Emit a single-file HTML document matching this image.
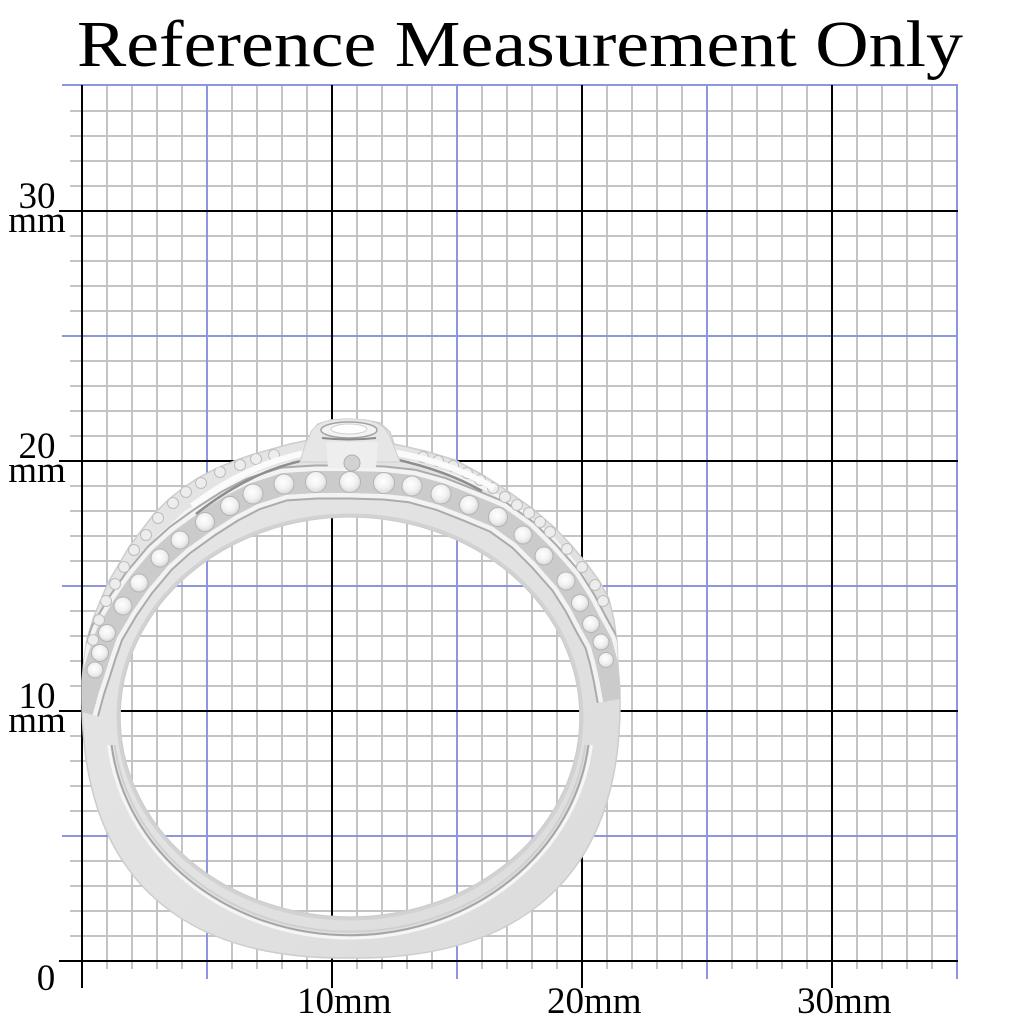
<!DOCTYPE html>
<html><head><meta charset="utf-8"><style>
html,body{margin:0;padding:0;background:#fff;}
svg{display:block;}
</style></head><body>
<svg width="1024" height="1024" viewBox="0 0 1024 1024" xmlns="http://www.w3.org/2000/svg">
<defs>
<radialGradient id="st" cx="45%" cy="40%" r="60%">
<stop offset="0" stop-color="#ffffff"/><stop offset="0.6" stop-color="#f1f1f1"/><stop offset="1" stop-color="#d8d8d8"/>
</radialGradient>
<linearGradient id="body" x1="0" y1="0" x2="1" y2="1">
<stop offset="0" stop-color="#e5e5e5"/><stop offset="0.5" stop-color="#e2e2e2"/><stop offset="1" stop-color="#dbdbdb"/>
</linearGradient>
<clipPath id="rc">
<path clip-rule="evenodd" d="M82 700 L82 681 L84 660 L87 639 L93 619 L101 599 L109 581 L119 564 L129 547 L141 531 L154 514 L169 499 L183 488 L198 478 L217 468 L237 460 L254 454 L272 449 L290 444 L309 440 L311 432 L318 424 L331 420 L348 419 L365 420 L380 423 L390 432 L394 444 L425 451 L455 460 L483 475 L509 492 L533 509 L555 528 L572 546 L587 564 L600 582 L609 599 L614 620 L617 642 L618 665 L620 690 L620 705 C620 872 525 960 350 958 C175 960 82 872 82 700 Z M120 717 A230 200 0 1 0 580 717 A230 200 0 1 0 120 717 Z"/>
</clipPath>
</defs>
<rect width="1024" height="1024" fill="#fff"/>

<!-- minor grid -->
<g stroke="#c4c4c4" stroke-width="2">
<path d="M107 85V969M132 85V969M157 85V969M182 85V969M232 85V969M257 85V969M282 85V969M307 85V969M357 85V969M382 85V969M407 85V969M432 85V969M482 85V969M507 85V969M532 85V969M557 85V969M607 85V969M632 85V969M657 85V969M682 85V969M732 85V969M757 85V969M782 85V969M807 85V969M857 85V969M882 85V969M907 85V969M932 85V969"/>
<path d="M70 936H958M70 911H958M70 886H958M70 861H958M70 811H958M70 786H958M70 761H958M70 736H958M70 686H958M70 661H958M70 636H958M70 611H958M70 561H958M70 536H958M70 511H958M70 486H958M70 436H958M70 411H958M70 386H958M70 361H958M70 311H958M70 286H958M70 261H958M70 236H958M70 186H958M70 161H958M70 136H958M70 111H958"/>
</g>
<!-- blue grid -->
<g stroke="#8e96de" stroke-width="2">
<path d="M207 84V979M457 84V979M707 84V979M957 84V979"/>
<path d="M62 836H958M62 586H958M62 336H958M62 85H958"/>
</g>
<!-- black grid -->
<g stroke="#000" stroke-width="2">
<path d="M82 85V988M332 85V988M582 85V988M832 85V988"/>
<path d="M59 961H958M59 711H958M59 461H958M59 211H958"/>
</g>

<!-- text -->
<text x="77" y="66" font-family="Liberation Serif, serif" font-size="66" textLength="886" lengthAdjust="spacingAndGlyphs" fill="#000">Reference Measurement Only</text>
<g font-family="Liberation Serif, serif" font-size="37" fill="#000" text-anchor="middle">
<text x="37" y="208">30</text><text x="37" y="232">mm</text>
<text x="37" y="458">20</text><text x="37" y="482">mm</text>
<text x="37" y="708">10</text><text x="37" y="732">mm</text>
<text x="46" y="990">0</text>
</g>
<g font-family="Liberation Serif, serif" font-size="37" fill="#000">
<text x="297" y="1013">10mm</text>
<text x="547" y="1013">20mm</text>
<text x="797" y="1013">30mm</text>
</g>

<!-- ring body -->
<path fill="url(#body)" fill-rule="evenodd" stroke="#cdcdcd" stroke-width="1.5" d="M82 700 L82 681 L84 660 L87 639 L93 619 L101 599 L109 581 L119 564 L129 547 L141 531 L154 514 L169 499 L183 488 L198 478 L217 468 L237 460 L254 454 L272 449 L290 444 L309 440 L311 432 L318 424 L331 420 L348 419 L365 420 L380 423 L390 432 L394 444 L425 451 L455 460 L483 475 L509 492 L533 509 L555 528 L572 546 L587 564 L600 582 L609 599 L614 620 L617 642 L618 665 L620 690 L620 705 C620 872 525 960 350 958 C175 960 82 872 82 700 Z M120 717 A230 200 0 1 0 580 717 A230 200 0 1 0 120 717 Z"/>

<g clip-path="url(#rc)">
<!-- lower groove -->
<path d="M108.6 745 A243 218 0 0 0 591.4 745" fill="none" stroke="#f6f6f6" stroke-width="3"/>
<path d="M111.6 745 A240 215 0 0 0 588.4 745" fill="none" stroke="#a6a6a6" stroke-width="2"/>
<path d="M114.7 745 A237 212 0 0 0 585.3 745" fill="none" stroke="#d0d0d0" stroke-width="2"/>
<!-- hole edge shading -->
<ellipse cx="350" cy="717" rx="232" ry="202" fill="none" stroke="#d2d2d2" stroke-width="3"/>

<!-- upper band ridge -->
<path d="M90 690 L96 660 L104 625 L118 595 L136 565 L158 537 L186 512 L214 494 L250 476 L290 463" fill="none" stroke="#f4f4f4" stroke-width="3"/>
<path d="M410 462 L450 474 L488 490 L520 510 L550 535 L574 562 L592 592 L604 625 L610 660" fill="none" stroke="#f4f4f4" stroke-width="3"/>

<!-- channel -->
<g fill="none" stroke-linejoin="round">
<path d="M82 712 L88 690 L94 672 L100 653 L107 633 L123 606 L139 583 L160 558 L180 540 L205 522 L230 506 L253 494 L284 484 L316 482 L350 482 L384 483 L412 486 L441 494 L469 505 L498 517 L523 535 L544 556 L566 581 L580 603 L591 624 L601 642 L606 660 L610 678 L614 700" stroke="#ababab" stroke-width="35"/>
<path d="M82 712 L88 690 L94 672 L100 653 L107 633 L123 606 L139 583 L160 558 L180 540 L205 522 L230 506 L253 494 L284 484 L316 482 L350 482 L384 483 L412 486 L441 494 L469 505 L498 517 L523 535 L544 556 L566 581 L580 603 L591 624 L601 642 L606 660 L610 678 L614 700" stroke="#f3f3f3" stroke-width="31"/>
<path d="M82 712 L88 690 L94 672 L100 653 L107 633 L123 606 L139 583 L160 558 L180 540 L205 522 L230 506 L253 494 L284 484 L316 482 L350 482 L384 483 L412 486 L441 494 L469 505 L498 517 L523 535 L544 556 L566 581 L580 603 L591 624 L601 642 L606 660 L610 678 L614 700" stroke="#cbcbcb" stroke-width="22"/>
</g>
<!-- stones -->
<g fill="url(#st)" stroke="#b4b4b4" stroke-width="1">
<circle cx="95" cy="670" r="8"/>
<circle cx="100" cy="653" r="8.5"/><circle cx="107" cy="633" r="8.5"/>
<circle cx="123" cy="606" r="9"/><circle cx="139" cy="583" r="9"/>
<circle cx="160" cy="558" r="9"/><circle cx="180" cy="540" r="9"/>
<circle cx="205" cy="522" r="9.5"/><circle cx="230" cy="506" r="9.5"/>
<circle cx="253" cy="494" r="10"/><circle cx="284" cy="484" r="10"/>
<circle cx="316" cy="482" r="10.5"/><circle cx="350" cy="482" r="10.5"/>
<circle cx="384" cy="483" r="10.5"/><circle cx="412" cy="486" r="10"/>
<circle cx="441" cy="494" r="10"/><circle cx="469" cy="505" r="9.5"/>
<circle cx="498" cy="517" r="9.5"/><circle cx="523" cy="535" r="9"/>
<circle cx="544" cy="556" r="9"/><circle cx="566" cy="581" r="9"/>
<circle cx="580" cy="603" r="8.5"/><circle cx="591" cy="624" r="8.5"/>
<circle cx="601" cy="642" r="8"/><circle cx="606" cy="660" r="7.5"/>
</g>
<!-- small outer stones -->
<g fill="#ededed" stroke="#bdbdbd" stroke-width="1">
<circle cx="93" cy="640" r="5.5"/><circle cx="99" cy="620" r="5.5"/><circle cx="106" cy="601" r="5.5"/>
<circle cx="115" cy="584" r="5.5"/><circle cx="124" cy="567" r="5.5"/><circle cx="134" cy="550" r="5.5"/>
<circle cx="146" cy="535" r="5.5"/><circle cx="158" cy="518" r="5.5"/><circle cx="173" cy="503" r="5.5"/>
<circle cx="186" cy="492" r="5.5"/><circle cx="201" cy="483" r="5.5"/><circle cx="220" cy="472" r="5.5"/>
<circle cx="240" cy="465" r="5.5"/><circle cx="256" cy="459" r="5.5"/><circle cx="274" cy="455" r="5.5"/>
<circle cx="423" cy="457" r="5.5"/><circle cx="438" cy="461" r="5.5"/><circle cx="453" cy="466" r="5.5"/>
<circle cx="467" cy="473" r="5.5"/><circle cx="480" cy="480" r="5.5"/><circle cx="493" cy="488" r="5.5"/>
<circle cx="505" cy="497" r="5.5"/><circle cx="517" cy="505" r="5.5"/><circle cx="529" cy="513" r="5.5"/>
<circle cx="540" cy="522" r="5.5"/><circle cx="550" cy="532" r="5.5"/><circle cx="567" cy="549" r="5.5"/>
<circle cx="582" cy="567" r="5.5"/><circle cx="595" cy="585" r="5.5"/><circle cx="603" cy="601" r="5.5"/>
</g>
<!-- arms -->
<path d="M312 452 Q250 462 192 506" fill="none" stroke="#fbfbfb" stroke-width="6"/>
<path d="M306 460 Q252 470 196 514" fill="none" stroke="#8e8e8e" stroke-width="2.5"/>
<path d="M392 452 Q450 462 494 488" fill="none" stroke="#fbfbfb" stroke-width="6"/>
<path d="M394 459 Q445 470 482 491" fill="none" stroke="#8e8e8e" stroke-width="2.5"/>
<!-- bezel -->
<path d="M300 462 Q306 440 312 430 Q320 419 348 418 Q378 419 386 430 Q392 440 400 462 Z" fill="#e6e6e6" stroke="#cfcfcf" stroke-width="1"/>
<path d="M326 442 L378 442 L376 468 L328 468 Z" fill="#eeeeee"/>
<circle cx="352" cy="463" r="8" fill="#d2d2d2" stroke="#b0b0b0" stroke-width="1"/>
<ellipse cx="349" cy="430" rx="28" ry="8" fill="#f3f3f3" stroke="#a2a2a2" stroke-width="1.5"/>
<ellipse cx="349" cy="429" rx="18" ry="5" fill="#fdfdfd" stroke="#cfcfcf" stroke-width="1"/>
<path d="M322 438 Q349 441 376 438" fill="none" stroke="#8a8a8a" stroke-width="2"/>
</g>
</svg>
</body></html>
